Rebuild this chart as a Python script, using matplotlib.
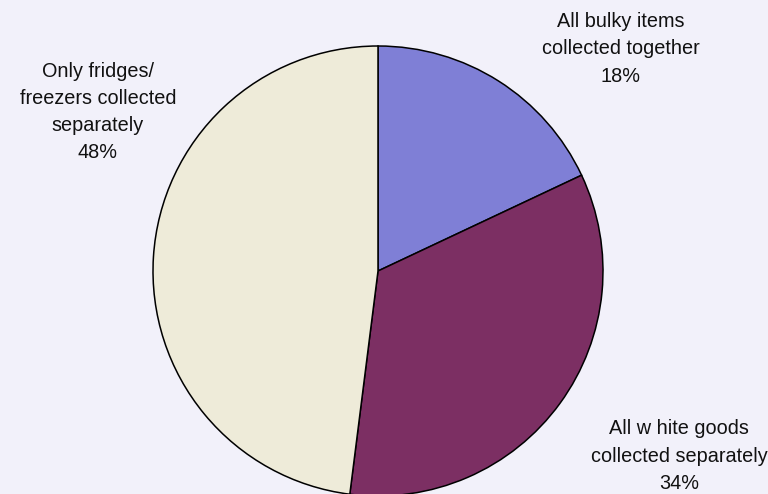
import matplotlib.pyplot as plt

labels = ["All bulky items\ncollected together",
          "All w hite goods\ncollected separately",
          "Only fridges/\nfreezers collected\nseparately"]
shares = [18, 34, 48]
colors = ["#7f7fd6", "#7c2f63", "#eeebd9"]

# label block centres in pixels (x, y from top)
label_pos = [(621, 49), (679, 456), (98, 112)]

W, H = 768, 494
bg = "#f2f1fa"
fig = plt.figure(figsize=(W / 100, H / 100), dpi=100)
fig.patch.set_facecolor(bg)

# pie centre and radius in pixels
cx, cy, r = 378, 271, 225
ax = fig.add_axes([(cx - r) / W, (H - cy - r) / H, 2 * r / W, 2 * r / H])
ax.set_facecolor(bg)
wedges, _ = ax.pie(shares, colors=colors, startangle=90, counterclock=False,
                   radius=1, wedgeprops=dict(edgecolor="black", linewidth=1.1))
for w in wedges:
    w.set_clip_on(False)
ax.set_xlim(-1, 1)
ax.set_ylim(-1, 1)
ax.set_aspect("equal")
ax.axis("off")

for lab, v, (x, y) in zip(labels, shares, label_pos):
    fig.text(x / W, 1 - y / H, f"{lab}\n{v}%", ha="center", va="center",
             multialignment="center", fontsize=14.3, family="Liberation Sans",
             linespacing=1.55, color="#111111")

fig.savefig("out.png", dpi=100, facecolor=bg)
